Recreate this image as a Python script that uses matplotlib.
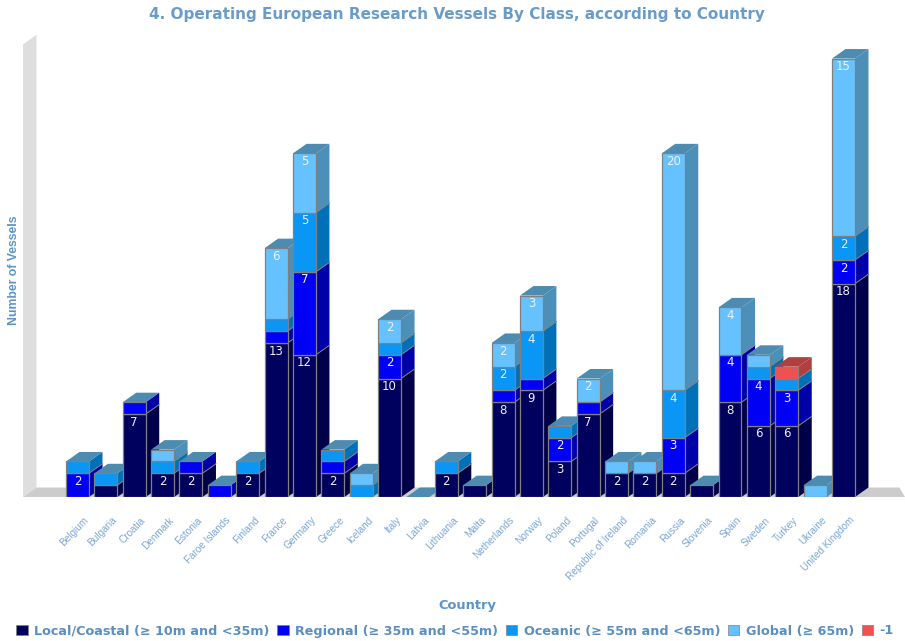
import matplotlib
matplotlib.use("Agg")
import matplotlib.pyplot as plt
from matplotlib.patches import Patch
from matplotlib.transforms import ScaledTranslation

countries = ["Belgium", "Bulgaria", "Croatia", "Denmark", "Estonia", "Faroe Islands", "Finland",
             "France", "Germany", "Greece", "Iceland", "Italy", "Latvia", "Lithuania", "Malta",
             "Netherlands", "Norway", "Poland", "Portugal", "Republic of Ireland", "Romania",
             "Russia", "Slovenia", "Spain", "Sweden", "Turkey", "Ukraine", "United Kingdom"]

local = [0, 1, 7, 2, 2, 0, 2, 13, 12, 2, 0, 10, 0, 2, 1, 8, 9, 3, 7, 2, 2, 2, 1, 8, 6, 6, 0, 18]
regional = [2, 0, 1, 0, 1, 1, 0, 1, 7, 1, 0, 2, 0, 0, 0, 1, 1, 2, 1, 0, 0, 3, 0, 4, 4, 3, 0, 2]
oceanic = [1, 1, 0, 1, 0, 0, 1, 1, 5, 1, 1, 1, 0, 1, 0, 2, 4, 1, 0, 0, 0, 4, 0, 0, 1, 1, 0, 2]
global_ = [0, 0, 0, 1, 0, 0, 0, 6, 5, 0, 1, 2, 0, 0, 0, 2, 3, 0, 2, 1, 1, 20, 0, 4, 1, 0, 1, 15]
unknown = [0, 0, 0, 0, 0, 0, 0, 0, 0, 0, 0, 0, 0, 0, 0, 0, 0, 0, 0, 0, 0, 0, 0, 0, 0, 1, 0, 0]

series = [local, regional, oceanic, global_, unknown]
labels = ["Local/Coastal (≥ 10m and <35m)", "Regional (≥ 35m and <55m)",
          "Oceanic (≥ 55m and <65m)", "Global (≥ 65m)", "-1"]
front_cols = ["#00005f", "#0000f5", "#0a96f5", "#66c2ff", "#f05050"]
side_cols = ["#000048", "#0000a8", "#0070b8", "#4c8fb8", "#b04040"]
top_col = "#4d8bb0"
edge_col = "#808080"
text_col = "#6a9cc9"

# pixel layout of the plot, used to place the axes
W, H = 905, 641
px_per_cat = 28.37
px_per_vessel = 11.85
first_x = 77.5
base_y = 497
ymax = 40

x_lo = (23 - first_x) / px_per_cat
x_hi = (W - first_x) / px_per_cat
bar_w = 0.81
dx = 13.5 / px_per_cat   # 3d depth
dy = 9.5 / px_per_vessel

fig = plt.figure(figsize=(W / 100, H / 100), dpi=100)
ax = fig.add_axes([23 / W, 1 - base_y / H, (W - 23) / W, ymax * px_per_vessel / H])
ax.set_xlim(x_lo, x_hi)
ax.set_ylim(0, ymax)
for s in ax.spines.values():
    s.set_visible(False)

# wall and floor
ax.fill([x_lo, x_lo + dx, x_lo + dx, x_lo], [0, dy, 39.0, 39.0 - dy], color="#dedede", lw=0, zorder=1)
ax.fill([x_lo, x_lo + dx, x_hi - 0.2, x_hi], [0, dy, dy, 0], color="#cccccc", lw=0, zorder=1)

# left to right so the next bar hides the side of the one before
for i in range(len(countries)):
    z = 10 + i
    left = i - bar_w / 2
    right = i + bar_w / 2
    bottom = 0
    for k, vals in enumerate(series):
        v = vals[i]
        if v == 0:
            continue
        ax.fill([right, right + dx, right + dx, right],
                [bottom, bottom + dy, bottom + v + dy, bottom + v],
                facecolor=side_cols[k], lw=0, zorder=z)
        if bottom > 0:
            # seam between two segments on the side
            ax.plot([right, right + dx], [bottom, bottom + dy], color=edge_col, lw=0.7, zorder=z + 0.05)
        ax.bar(i, v, bottom=bottom, width=bar_w, color=front_cols[k], edgecolor=edge_col, lw=0.9, zorder=z + 0.2)
        if v >= 2:
            ax.text(i, bottom + v - 0.68, str(v), color="#f0f0f8", fontsize=8.5, ha="center", va="center", zorder=z + 0.4)
        bottom += v
    cap = side_cols[4] if unknown[i] else top_col
    ax.fill([left, left + dx, right + dx, right], [bottom, bottom + dy, bottom + dy, bottom],
            facecolor=cap, lw=0, zorder=z + 0.1)

ax.set_yticks([])
ax.set_xticks(range(len(countries)))
ax.set_xticklabels(countries, rotation=46, ha="right", va="top", rotation_mode="anchor",
                   family="Liberation Sans", fontsize=7.2, color="#7ba6d6")
ax.tick_params(axis="x", length=0, pad=13)
shift = ScaledTranslation(6 / 100, 0, fig.dpi_scale_trans)
for t in ax.get_xticklabels():
    t.set_transform(t.get_transform() + shift)

fig.text(457 / W, 1 - 14 / H, "4. Operating European Research Vessels By Class, according to Country",
         color=text_col, fontsize=11, fontweight="bold", ha="center", va="center")
fig.text(467 / W, 1 - 606 / H, "Country", color="#5b94c6", fontsize=9.4, fontweight="bold", ha="center", va="center")
fig.text(14 / W, 1 - 270 / H, "Number of Vessels", color="#5b94c6", fontsize=8.8, fontweight="bold",
         family="Liberation Sans", rotation=90, ha="center", va="center")

handles = [Patch(facecolor=c, edgecolor=edge_col, lw=0.5) for c in front_cols]
fig.legend(handles, labels, loc="center", bbox_to_anchor=(455 / W, 1 - 631 / H), ncol=5, frameon=False,
           prop={"size": 9.2, "weight": "bold"}, labelcolor="#5b8fc0", handlelength=0.9, handleheight=0.9,
           handletextpad=0.5, columnspacing=0.6, borderpad=0)

fig.savefig("out.png", dpi=100)
